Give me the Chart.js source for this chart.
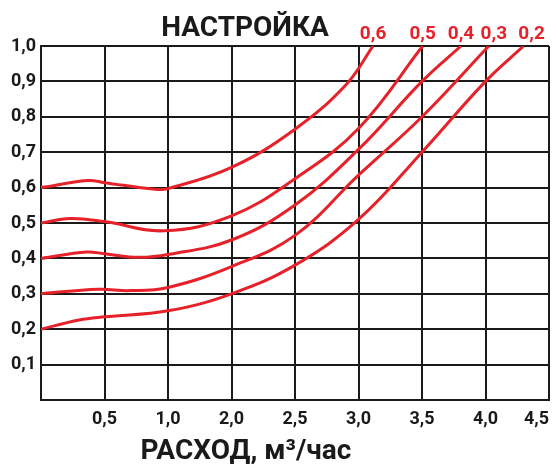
<!DOCTYPE html>
<html>
<head>
<meta charset="utf-8">
<script src="https://cdn.jsdelivr.net/npm/chart.js@4.4.1/dist/chart.umd.min.js"></script>
<style>
  html, body { margin: 0; padding: 0; background: #fff; }
  #wrap { width: 558px; height: 468px; position: relative; }
</style>
</head>
<body>
<div id="wrap"><canvas id="chart"></canvas></div>
<script>
// grid position along the x axis (0..4, one step = 0.5) and value on the y axis
var curveNames = ['0,6', '0,5', '0,4', '0,3', '0,2']

var pos06 = [0, 0.37, 0.5, 0.9, 1.0, 1.5, 2.0, 2.4, 2.615]
var val06 = [0.60, 0.62, 0.614, 0.595, 0.597, 0.657, 0.765, 0.89, 1.0]

var pos05 = [0, 0.23, 0.5, 0.97, 1.5, 2.0, 2.5, 3.005]
var val05 = [0.50, 0.513, 0.504, 0.478, 0.52, 0.625, 0.767, 1.0]

var pos04 = [0, 0.36, 0.5, 0.77, 1.0, 1.5, 2.0, 2.5, 3.0, 3.307]
var val04 = [0.40, 0.418, 0.413, 0.403, 0.411, 0.452, 0.551, 0.708, 0.90, 1.0]

var pos03 = [0, 0.45, 0.7, 1.0, 1.5, 2.0, 2.5, 3.0, 3.526]
var val03 = [0.30, 0.313, 0.309, 0.318, 0.377, 0.465, 0.635, 0.80, 1.0]

var pos02 = [0, 0.3, 0.5, 1.0, 1.5, 2.0, 2.5, 3.0, 3.5, 3.8]
var val02 = [0.20, 0.226, 0.235, 0.252, 0.30, 0.381, 0.51, 0.70, 0.90, 1.0]

var xTickLabels = ['', '0,5', '1,0', '2,0', '2,5', '3,0', '3,5', '4,0', '4,5']
var yTickLabels = ['', '0,1', '0,2', '0,3', '0,4', '0,5', '0,6', '0,7', '0,8', '0,9', '1,0']

var RED = '#e62129'
var INK = '#1a1a1a'
// small nudges for the curve name labels (pixels)
var labelNudge = [0, 0, 0, 5, 8]

function toPoints(xs, ys) {
    return xs.map(function(x, i) { return {x: x, y: ys[i]} })
}

var series = [
    toPoints(pos06, val06),
    toPoints(pos05, val05),
    toPoints(pos04, val04),
    toPoints(pos03, val03),
    toPoints(pos02, val02)
]

var textPlugin = {
    id: 'texts',
    afterDraw: function(chart) {
        var ctx = chart.ctx
        ctx.save()
        ctx.textAlign = 'center'
        ctx.textBaseline = 'middle'
        ctx.fillStyle = INK
        ctx.font = 'bold 28px Roboto'
        ctx.fillText('НАСТРОЙКА', 245, 29)
        ctx.fillText('РАСХОД, м³/час', 246, 452)

        // curve names above the end of each curve
        ctx.fillStyle = RED
        ctx.font = 'bold 19px Roboto'
        chart.data.datasets.forEach(function(ds, i) {
            var meta = chart.getDatasetMeta(i)
            var last = meta.data[meta.data.length - 1]
            ctx.fillText(curveNames[i], last.x + labelNudge[i], 34)
        })
        ctx.restore()
    }
}

new Chart(document.getElementById('chart'), {
    type: 'line',
    data: {
        datasets: series.map(function(pts, i) {
            return {
                label: curveNames[i],
                data: pts,
                borderColor: RED,
                borderWidth: 3,
                pointRadius: 0,
                fill: false,
                tension: 0.4
            }
        })
    },
    options: {
        responsive: true,
        maintainAspectRatio: false,
        animation: false,
        layout: { padding: { top: 46, right: 5, left: 0, bottom: 0 } },
        plugins: {
            legend: { display: false },
            tooltip: { enabled: false }
        },
        scales: {
            x: {
                type: 'linear',
                min: 0,
                max: 4,
                grid: { color: INK, lineWidth: 2, drawTicks: false },
                border: { color: INK, width: 2 },
                ticks: {
                    stepSize: 0.5,
                    autoSkip: false,
                    maxRotation: 0,
                    align: 'inner',
                    padding: 9,
                    color: INK,
                    font: { family: 'Roboto', weight: 'bold', size: 18 },
                    callback: function(v) { return xTickLabels[Math.round(v * 2)] }
                },
                afterFit: function(s) { s.height = 68 }
            },
            y: {
                min: 0,
                max: 1,
                grid: { color: INK, lineWidth: 2, drawTicks: false },
                border: { color: INK, width: 2 },
                ticks: {
                    stepSize: 0.1,
                    padding: 5,
                    color: INK,
                    font: { family: 'Roboto', weight: 'bold', size: 18 },
                    callback: function(v) { return yTickLabels[Math.round(v * 10)] }
                },
                afterFit: function(s) { s.width = 41 }
            }
        }
    },
    plugins: [textPlugin]
});
</script>
</body>
</html>
